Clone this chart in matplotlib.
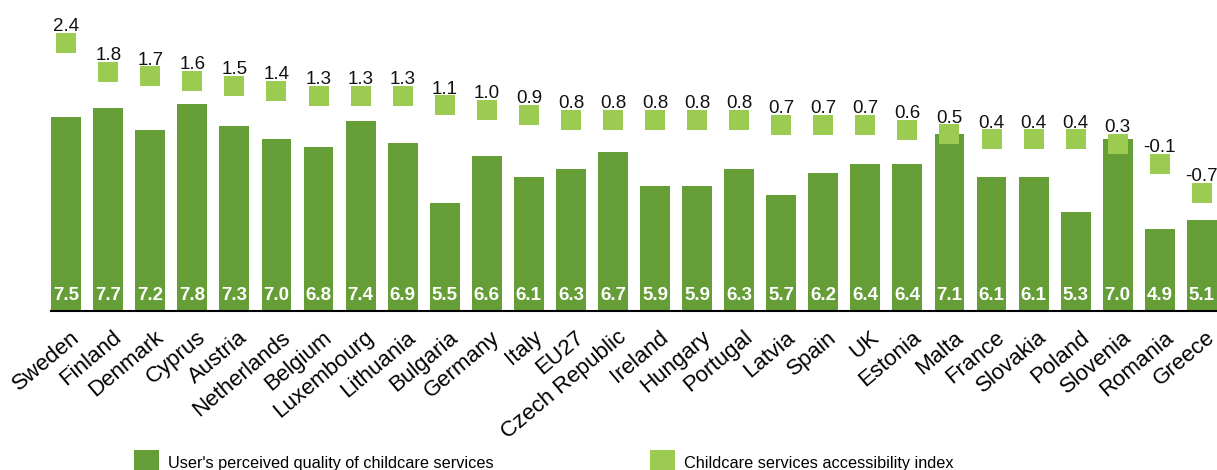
import numpy as np
import matplotlib.pyplot as plt
from matplotlib.patches import Patch
from matplotlib.transforms import ScaledTranslation

plt.rcParams['font.family'] = ['Liberation Sans', 'DejaVu Sans']

# data
countries = ['Sweden', 'Finland', 'Denmark', 'Cyprus', 'Austria', 'Netherlands',
             'Belgium', 'Luxembourg', 'Lithuania', 'Bulgaria', 'Germany', 'Italy',
             'EU27', 'Czech Republic', 'Ireland', 'Hungary', 'Portugal', 'Latvia',
             'Spain', 'UK', 'Estonia', 'Malta', 'France', 'Slovakia', 'Poland',
             'Slovenia', 'Romania', 'Greece']
quality = [7.5, 7.7, 7.2, 7.8, 7.3, 7.0, 6.8, 7.4, 6.9, 5.5, 6.6, 6.1, 6.3, 6.7,
           5.9, 5.9, 6.3, 5.7, 6.2, 6.4, 6.4, 7.1, 6.1, 6.1, 5.3, 7.0, 4.9, 5.1]
access = [2.4, 1.8, 1.7, 1.6, 1.5, 1.4, 1.3, 1.3, 1.3, 1.1, 1.0, 0.9, 0.8, 0.8,
          0.8, 0.8, 0.8, 0.7, 0.7, 0.7, 0.6, 0.5, 0.4, 0.4, 0.4, 0.3, -0.1, -0.7]
legend_labels = ["User's perceived quality of childcare services",
                 "Childcare services accessibility index"]

bar_green = '#659D36'
light_green = '#9BCB50'

fig = plt.figure(figsize=(12.17, 4.70), dpi=100)
ax = fig.add_axes([51 / 1217, 159 / 470, 1166 / 1217, 311 / 470])
x = np.arange(len(countries))

ax.bar(x, quality, width=0.71, color=bar_green, zorder=2)
ax.set_xlim(-0.36, len(countries) - 0.64)
ax.set_ylim(3, 10.215)

for i, v in enumerate(quality):
    ax.annotate(f'{v:.1f}', (i, 3), xytext=(0, 8), textcoords='offset points',
                ha='center', va='baseline', color='white', fontweight='bold',
                fontsize=13.5, zorder=3)

for s in ['top', 'right', 'left']:
    ax.spines[s].set_visible(False)
ax.spines['bottom'].set_linewidth(1.5)
ax.spines['bottom'].set_color('black')
ax.set_yticks([])

ax.set_xticks(x)
ax.set_xticklabels(countries, rotation=40, ha='right', va='top',
                   rotation_mode='anchor', fontsize=16)
ax.tick_params(axis='x', length=0, pad=11.5)
shift = ScaledTranslation(4 / 100, 0, fig.dpi_scale_trans)
for lab in ax.get_xticklabels():
    lab.set_transform(lab.get_transform() + shift)

# accessibility index on its own scale
ax2 = ax.twinx()
ax2.set_ylim(-3.147, 3.279)
ax2.plot(x, access, ls='none', marker='s', ms=13.7, mew=0, color=light_green)
for i, v in enumerate(access):
    ax2.annotate(f'{v:.1f}', (i, v), xytext=(0, 8.5), textcoords='offset points',
                 ha='center', va='baseline', fontsize=13.5, color='#111111')
ax2.set_yticks([])
for s in ax2.spines.values():
    s.set_visible(False)

handles = [Patch(facecolor=bar_green, linewidth=0, label=legend_labels[0]),
           Patch(facecolor=light_green, linewidth=0, label=legend_labels[1])]
fig.legend(handles=handles, loc='upper left', bbox_to_anchor=(134 / 1217, 1 - 450 / 470),
           ncol=2, frameon=False, fontsize=11.7, handlelength=1.54, handleheight=1.98,
           handletextpad=0.55, columnspacing=9.6, borderpad=0, borderaxespad=0)

fig.savefig('out.png', dpi=100)
